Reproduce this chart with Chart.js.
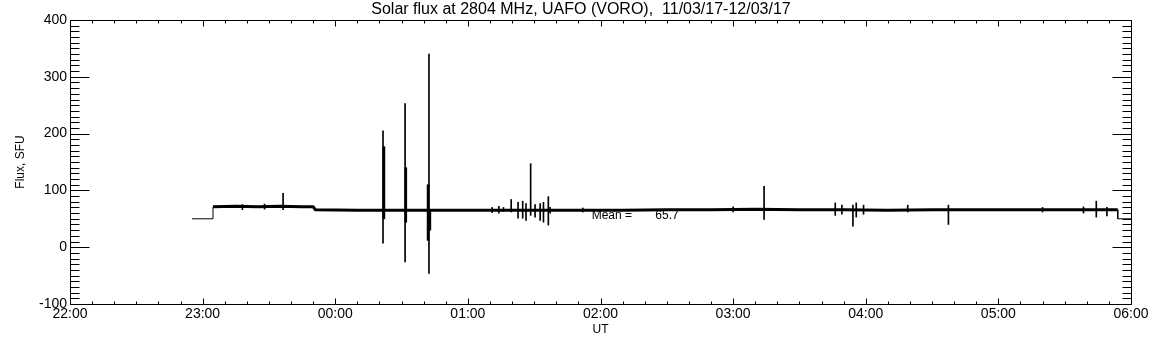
<!DOCTYPE html>
<html lang="en">
<head>
<meta charset="UTF-8">
<title>Solar flux at 2804 MHz</title>
<script src="https://cdn.jsdelivr.net/npm/chart.js"></script>
<style>
  html, body { margin: 0; padding: 0; background: #fff; }
  #wrap { width: 1152px; height: 345px; }
</style>
</head>
<body>
<div id="wrap"><canvas id="fluxChart"></canvas></div>
<script>
// time is minutes after 22:00 UT, flux in SFU
const chartTitle = 'Solar flux at 2804 MHz, UAFO (VORO),  11/03/17-12/03/17';
const hourLabels = ['22:00', '23:00', '00:00', '01:00', '02:00', '03:00', '04:00', '05:00', '06:00'];

// quiet level before the receiver settles, and the tail at the end
const startTimes = [55.2, 64.7, 64.7];
const startFlux = [50, 50, 71];
const endTimes = [474, 474, 480];
const endFlux = [66, 50, 50];

// the noisy baseline (drawn as a thick band)
const bandTimes = [64.7, 75, 85, 95, 105, 110, 111, 130, 150, 170, 190, 210, 230, 250, 270, 290, 310, 330, 350, 370, 390, 410, 430, 450, 474];
const bandFlux = [71, 72, 71, 72, 71, 71, 66, 65, 65, 65, 65, 65, 65, 65, 66, 66, 67, 66, 66, 65, 66, 66, 66, 66, 66];

// bursts / interference spikes: min and max of each
const spikeTimes = [78, 88, 96.4, 141.6, 151.6, 162.4, 191, 194, 196.1, 199.6, 202.7, 204.8, 206.3, 208.4, 210.4, 212.7, 214.2, 216.4, 217.2, 232, 300, 314, 346.2, 349.2, 354.2, 355.7, 359, 379, 397.4, 440, 458.5, 464.3, 469.1];
const spikeLow = [66, 67, 66, 7, -26, -46, 61, 60, 63, 62, 51, 51, 47, 56, 53, 47, 44, 39, 60, 62, 62, 49, 56, 58, 37, 53, 58, 62, 40, 62, 60, 53, 55];
const spikeHigh = [75, 76, 95, 205, 253, 340, 70, 72, 70, 84, 79, 81, 77, 147, 75, 77, 79, 89, 70, 69, 71, 107, 78, 74, 74, 78, 74, 74, 74, 70, 71, 81, 70];

// heavier cores inside the three big spikes
const coreTimes = [142.0, 151.9, 162.0, 162.8];
const coreLow = [50, 44, 12, 30];
const coreHigh = [177, 140, 110, 65];

const meanText = 'Mean =       65.7';
const meanAt = [236, 55];

const toXY = (ts, vs) => ts.map((t, i) => ({ x: t, y: vs[i] }));
const toBars = (ts, lo, hi) => ts.map((t, i) => ({ x: t, y: [lo[i], hi[i]] }));

const idlFrame = {
    id: 'idlFrame',
    afterDatasetsDraw(chart) {
        const { ctx, chartArea: a, scales: { x, y } } = chart;
        const L = Math.round(a.left) + 0.5, R = Math.round(a.right) + 0.5;
        const T = Math.round(a.top) + 0.5, B = Math.round(a.bottom) + 0.5;
        ctx.save();
        ctx.strokeStyle = '#000';
        ctx.lineWidth = 1;
        ctx.beginPath();
        ctx.rect(L, T, R - L, B - T);
        for (let m = 0; m <= 480; m += 10) {
            const px = Math.round(x.getPixelForValue(m)) + 0.5;
            const len = m % 60 === 0 ? 6 : 3;
            ctx.moveTo(px, B); ctx.lineTo(px, B - len);
            ctx.moveTo(px, T); ctx.lineTo(px, T + len);
        }
        for (let v = -100; v <= 400; v += 10) {
            const py = Math.round(y.getPixelForValue(v)) + 0.5;
            const len = v % 100 === 0 ? 19 : 9;
            ctx.moveTo(L, py); ctx.lineTo(L + len, py);
            ctx.moveTo(R, py); ctx.lineTo(R - len, py);
        }
        ctx.stroke();

        ctx.fillStyle = '#000';
        ctx.textBaseline = 'middle';
        ctx.font = '12px "Liberation Sans"';
        ctx.fillText(meanText, x.getPixelForValue(meanAt[0]), y.getPixelForValue(meanAt[1]));

        // title, centred a little right of the canvas middle as in the original
        ctx.font = '16px "Liberation Sans"';
        ctx.textAlign = 'center';
        ctx.fillText(chartTitle, 581, 10);
        ctx.restore();
    }
};

const ctx = document.getElementById('fluxChart').getContext('2d');
new Chart(ctx, {
    type: 'line',
    data: {
        datasets: [
            { data: toXY(bandTimes, bandFlux), borderColor: '#000', borderWidth: 3, pointRadius: 0, tension: 0 },
            { data: toXY(startTimes, startFlux), borderColor: '#000', borderWidth: 1, pointRadius: 0, tension: 0 },
            { data: toXY(endTimes, endFlux), borderColor: '#000', borderWidth: 1, pointRadius: 0, tension: 0 },
            { type: 'bar', data: toBars(spikeTimes, spikeLow, spikeHigh), backgroundColor: '#000', borderWidth: 0, barThickness: 1, grouped: false },
            { type: 'bar', data: toBars(coreTimes, coreLow, coreHigh), backgroundColor: '#000', borderWidth: 0, barThickness: 2, grouped: false }
        ]
    },
    options: {
        responsive: true,
        maintainAspectRatio: false,
        animation: false,
        layout: { padding: { left: 0, right: 21, top: 20, bottom: 0 } },
        plugins: {
            legend: { display: false },
            tooltip: { enabled: false },
            title: { display: false }
        },
        scales: {
            x: {
                type: 'linear',
                min: 0,
                max: 480,
                offset: false,
                grid: { display: false, drawTicks: false, offset: false },
                border: { display: false },
                ticks: {
                    stepSize: 60,
                    autoSkip: false,
                    maxRotation: 0,
                    padding: 2,
                    color: '#000',
                    font: { family: 'Liberation Sans', size: 14 },
                    callback: v => hourLabels[v / 60]
                },
                title: { display: true, text: 'UT', color: '#000', font: { family: 'Liberation Sans', size: 12 }, padding: { top: 0, bottom: 8 } },
                afterFit: s => { s.height = 41; }
            },
            y: {
                min: -100,
                max: 400,
                grid: { display: false, drawTicks: false },
                border: { display: false },
                ticks: {
                    stepSize: 100,
                    padding: 3,
                    color: '#000',
                    font: { family: 'Liberation Sans', size: 14 }
                },
                title: { display: true, text: 'Flux, SFU', color: '#000', font: { family: 'Liberation Sans', size: 12 }, padding: { top: 13, bottom: 0 } },
                afterFit: s => { s.width = 70; }
            }
        }
    },
    plugins: [idlFrame]
});
</script>
</body>
</html>
